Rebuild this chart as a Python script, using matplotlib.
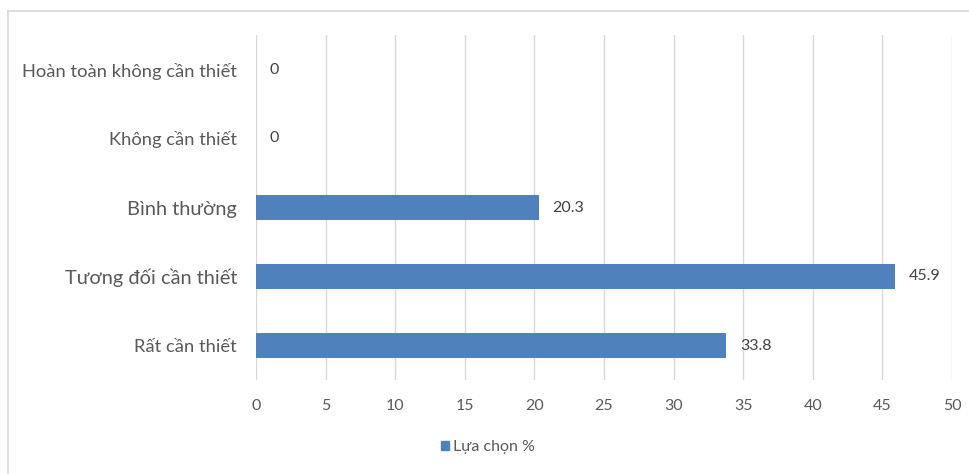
import matplotlib.pyplot as plt
from matplotlib.lines import Line2D
from matplotlib.patches import Patch

categories = ['Rất cần thiết', 'Tương đối cần thiết', 'Bình thường',
              'Không cần thiết', 'Hoàn toàn không cần thiết']
values = [33.8, 45.9, 20.3, 0, 0]
label_sizes = [13.2, 14.4, 14.4, 13.2, 13.2]
xticks = [0, 5, 10, 15, 20, 25, 30, 35, 40, 45, 50]

plt.rcParams['font.family'] = ['Lato', 'DejaVu Sans']
grey = '#595959'
bar_color = '#4F81BD'

fig = plt.figure(figsize=(9.7, 4.74), dpi=100)
ax = fig.add_axes([256 / 970, 1 - 380 / 474, 696 / 970, 345 / 474])

ypos = list(range(len(categories)))
ax.barh(ypos, values, height=0.36, color=bar_color, edgecolor='none', zorder=3)
for y, v in zip(ypos, values):
    ax.text(v + 1.0, y, f'{v:g}', va='center', ha='left',
            fontsize=11.5, color='#404040')

ax.set_xlim(0, 50)
ax.set_ylim(-0.5, len(categories) - 0.5)
ax.set_xticks(xticks)
ax.set_yticks(ypos)
ax.set_yticklabels(categories)
for lab, s in zip(ax.get_yticklabels(), label_sizes):
    lab.set_fontsize(s)
    lab.set_color(grey)
ax.tick_params(axis='y', length=0, pad=13.5)
ax.tick_params(axis='x', length=0, pad=14, labelsize=11.5, labelcolor=grey)
ax.grid(axis='x', color='#D9D9D9', linewidth=1, zorder=0)
for sp in ax.spines.values():
    sp.set_visible(False)

handles = [Patch(facecolor=bar_color, edgecolor=bar_color)]
fig.legend(handles, ['Lựa chọn %'], loc='center', bbox_to_anchor=(488 / 970, 1 - 447 / 474),
           frameon=False, fontsize=11.5, labelcolor=grey, handlelength=0.55,
           handleheight=0.55, handletextpad=0.25)

# outer chart border (top and left edges visible)
fig.add_artist(Line2D([8 / 970, 1], [1 - 11 / 474, 1 - 11 / 474],
                      transform=fig.transFigure, color='#D9D9D9', linewidth=1.2))
fig.add_artist(Line2D([8 / 970, 8 / 970], [0, 1 - 11 / 474],
                      transform=fig.transFigure, color='#D9D9D9', linewidth=1.2))

fig.savefig('out.png', dpi=100)
